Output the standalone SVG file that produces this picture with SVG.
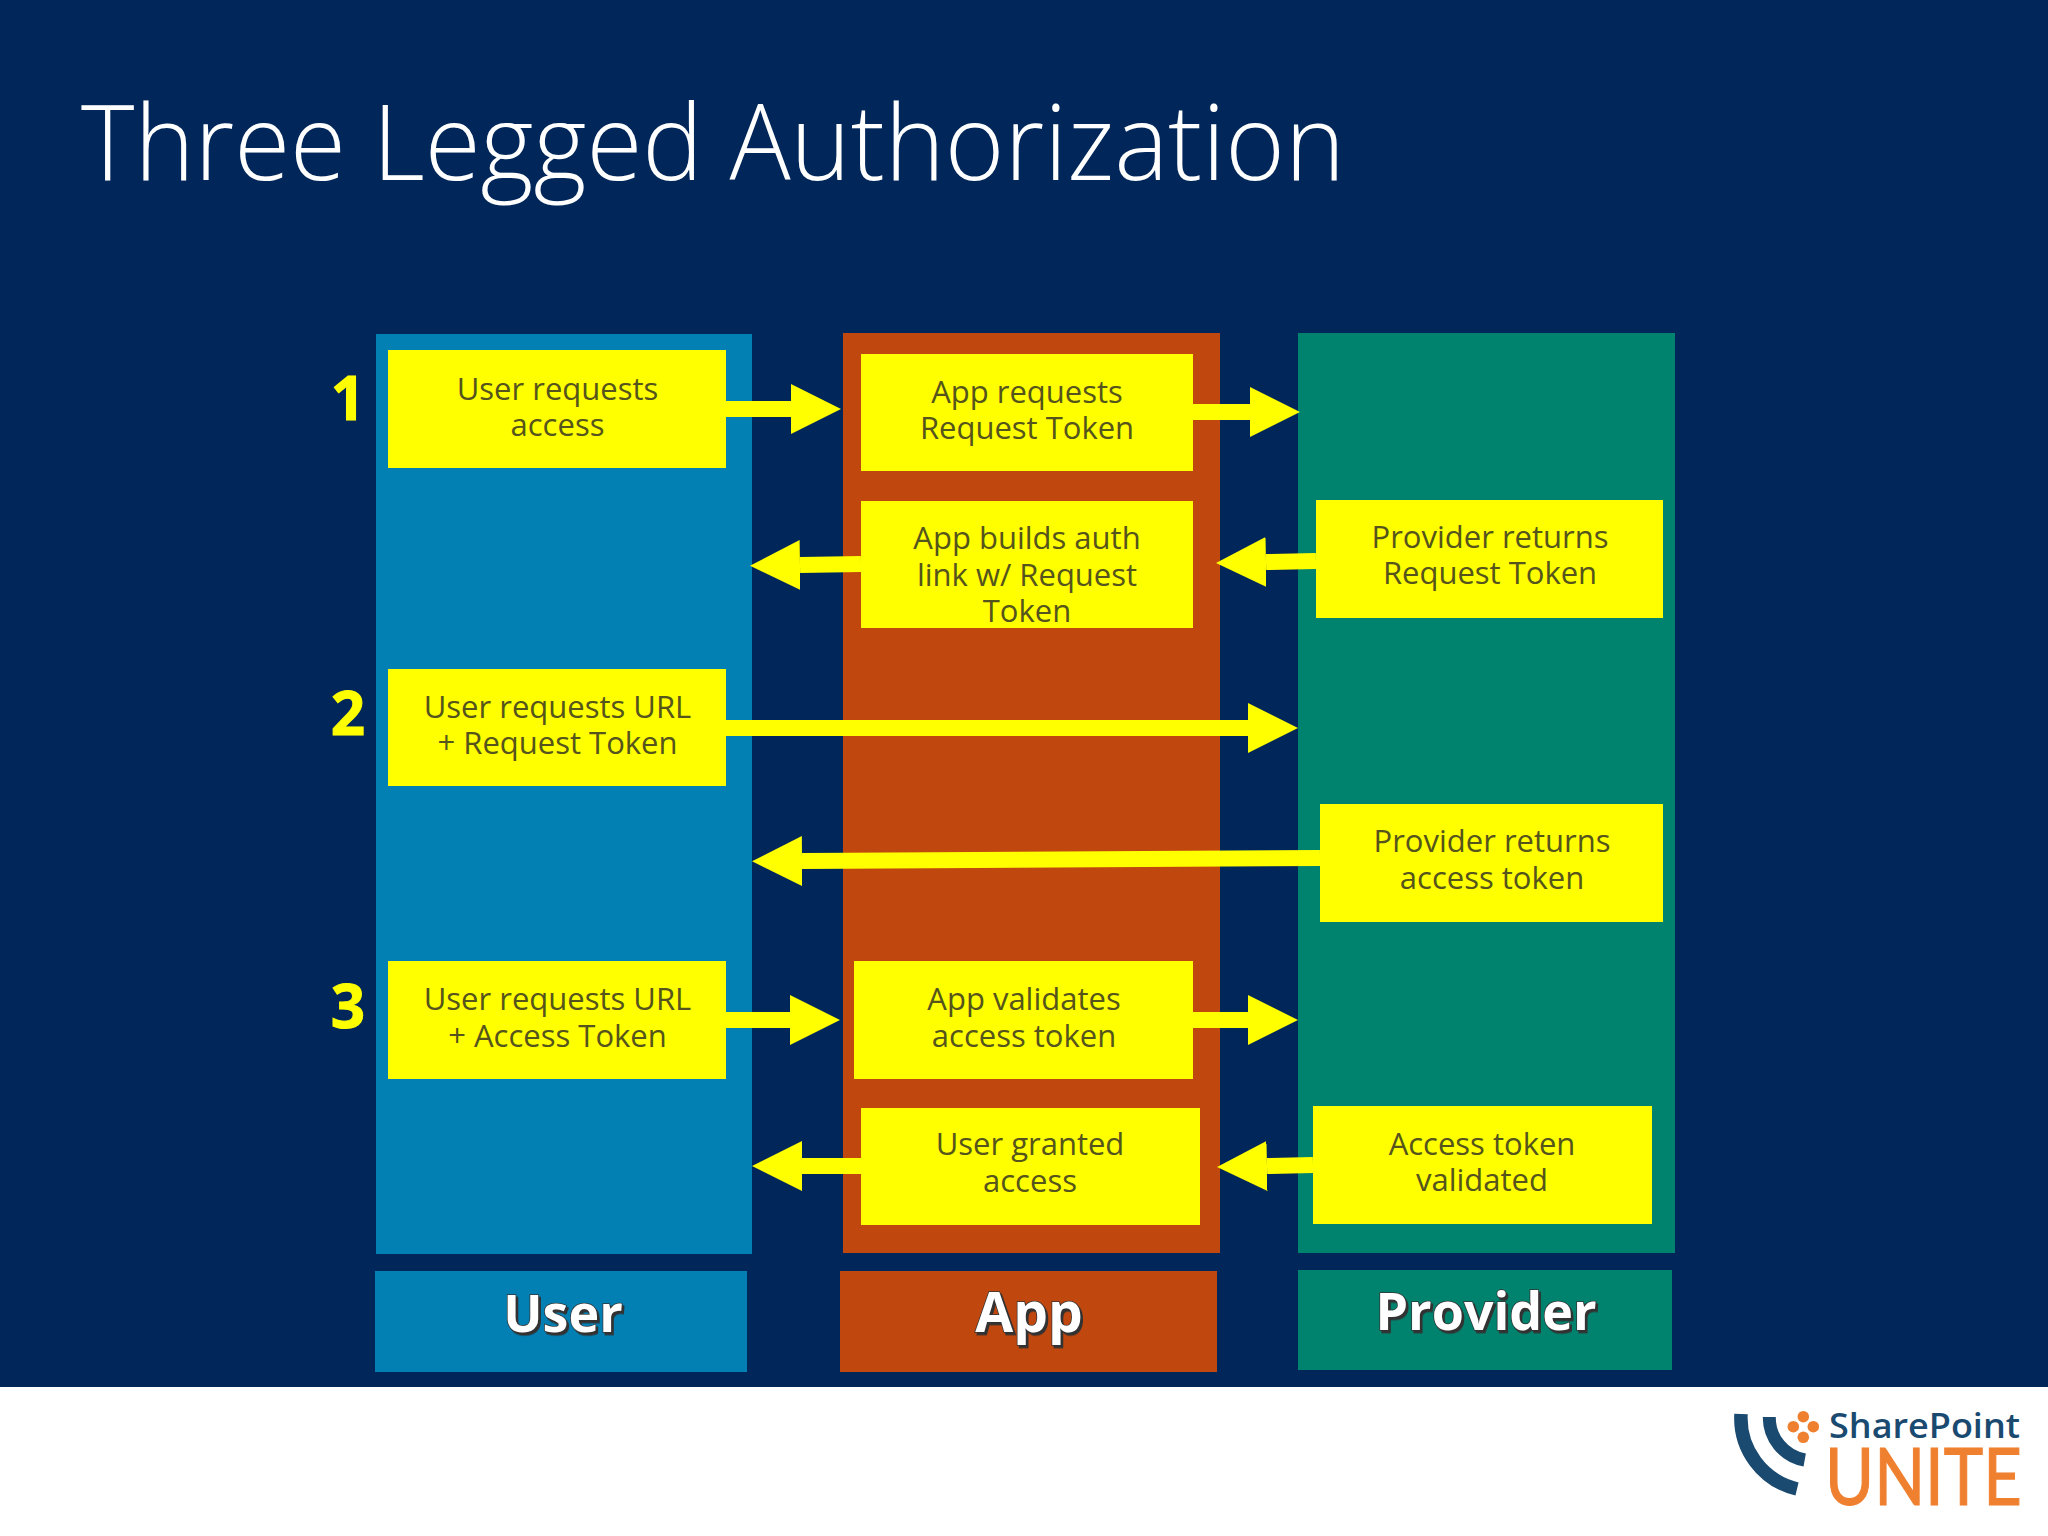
<svg xmlns="http://www.w3.org/2000/svg" width="2048" height="1536" viewBox="0 0 2048 1536">
<style>
.title{font-family:"Open Sans","Noto Sans",sans-serif;font-weight:300;font-size:106px;fill:#fff}
.box{fill:#ffff00}
.t{font-family:"Open Sans","Noto Sans",sans-serif;font-size:31px;fill:#55541c;text-anchor:middle}
.num{font-family:"Open Sans","Noto Sans",sans-serif;font-weight:700;font-size:60px;fill:#ffff00;text-anchor:middle;stroke:#ffff00;stroke-width:1px}
.lab{font-family:"Open Sans","Noto Sans",sans-serif;font-weight:700;font-size:52px;fill:#fff;text-anchor:middle;stroke:#333;stroke-width:1.5px;paint-order:stroke;filter:url(#sh)}
.c{stroke:#ffff00;stroke-width:16;fill:none;marker-end:url(#head)}
.arc{fill:none;stroke:#1a4a70}
.dot{fill:#ef8030}
</style>
<defs>
<marker id="head" markerUnits="userSpaceOnUse" markerWidth="50" markerHeight="52" refX="0" refY="26" orient="auto"><polygon points="0,1 50,26 0,51" fill="#ffff00"/></marker>
<filter id="sh" x="-10%" y="-10%" width="120%" height="130%"><feDropShadow dx="2" dy="2.5" stdDeviation="0.6" flood-color="#333"/></filter>
</defs>
<rect width="2048" height="1536" fill="#fff"/>
<rect width="2048" height="1387" fill="#012659"/>
<text class="title" x="81" y="180" textLength="1264" lengthAdjust="spacingAndGlyphs">Three Legged Authorization</text>
<g id="col-user"><rect x="376" y="334" width="376" height="920" fill="#0280b4"/></g>
<g id="col-app"><rect x="843" y="333" width="377" height="920" fill="#c0470d"/></g>
<g id="col-provider"><rect x="1298" y="333" width="377" height="920" fill="#00836e"/></g>
<g id="connectors">
<line class="c" x1="726" y1="409" x2="791" y2="409"/>
<line class="c" x1="1193" y1="412" x2="1250" y2="412"/>
<line class="c" x1="861" y1="564" x2="800" y2="565"/>
<line class="c" x1="1316" y1="561" x2="1266" y2="562"/>
<line class="c" x1="726" y1="728" x2="1248" y2="728"/>
<line class="c" x1="1320" y1="858" x2="802" y2="861"/>
<line class="c" x1="726" y1="1020" x2="790" y2="1020"/>
<line class="c" x1="1193" y1="1020" x2="1248" y2="1020"/>
<line class="c" x1="861" y1="1166" x2="802" y2="1166"/>
<line class="c" x1="1313" y1="1165" x2="1267" y2="1166"/>
</g>
<g id="n1"><rect class="box" x="388" y="350" width="338" height="118"/><text class="t" y="400"><tspan x="557.500">User requests</tspan><tspan x="557.500" dy="36">access</tspan></text></g>
<g id="n2"><rect class="box" x="861" y="354" width="332" height="117"/><text class="t" y="403"><tspan x="1027">App requests</tspan><tspan x="1027" dy="36">Request Token</tspan></text></g>
<g id="n3"><rect class="box" x="861" y="501" width="332" height="127"/><text class="t" y="549"><tspan x="1027">App builds auth</tspan><tspan x="1027" dy="36.500">link w/ Request</tspan><tspan x="1027" dy="36.500">Token</tspan></text></g>
<g id="n4"><rect class="box" x="1316" y="500" width="347" height="118"/><text class="t" y="548"><tspan x="1490">Provider returns</tspan><tspan x="1490" dy="36">Request Token</tspan></text></g>
<g id="n5"><rect class="box" x="388" y="669" width="338" height="117"/><text class="t" y="718"><tspan x="557.500">User requests URL</tspan><tspan x="557.500" dy="36">+ Request Token</tspan></text></g>
<g id="n6"><rect class="box" x="1320" y="804" width="343" height="118"/><text class="t" y="852"><tspan x="1492">Provider returns</tspan><tspan x="1492" dy="37">access token</tspan></text></g>
<g id="n7"><rect class="box" x="388" y="961" width="338" height="118"/><text class="t" y="1010"><tspan x="557.500">User requests URL</tspan><tspan x="557.500" dy="36.500">+ Access Token</tspan></text></g>
<g id="n8"><rect class="box" x="854" y="961" width="339" height="118"/><text class="t" y="1010"><tspan x="1024">App validates</tspan><tspan x="1024" dy="36.500">access token</tspan></text></g>
<g id="n9"><rect class="box" x="861" y="1108" width="339" height="117"/><text class="t" y="1155"><tspan x="1030">User granted</tspan><tspan x="1030" dy="36.500">access</tspan></text></g>
<g id="n10"><rect class="box" x="1313" y="1106" width="339" height="118"/><text class="t" y="1155"><tspan x="1482">Access token</tspan><tspan x="1482" dy="36">validated</tspan></text></g>
<g id="numbers"><text class="num" x="348" y="420">1</text><text class="num" x="348" y="735">2</text><text class="num" x="348" y="1028">3</text></g>
<g id="label-user"><rect x="375" y="1271" width="372" height="101" fill="#0280b4"/><text class="lab" x="563" y="1332">User</text></g>
<g id="label-app"><rect x="840" y="1271" width="377" height="101" fill="#c0470d"/><text class="lab" x="1029" y="1332" style="font-size:55px">App</text></g>
<g id="label-provider"><rect x="1298" y="1270" width="374" height="100" fill="#00836e"/><text class="lab" x="1486" y="1330">Provider</text></g>
<g id="logo">
<path class="arc" stroke-width="13.500" d="M1741 1414A73 73 0 0 0 1797 1489"/>
<path class="arc" stroke-width="13" d="M1769.300 1417A43 43 0 0 0 1804.700 1460"/>
<circle class="dot" cx="1803.300" cy="1416.700" r="5.800"/><circle class="dot" cx="1793.300" cy="1426.700" r="5.800"/><circle class="dot" cx="1813.300" cy="1426.700" r="5.800"/><circle class="dot" cx="1803.300" cy="1437.300" r="5.800"/>
<text x="1829" y="1438" font-family="Open Sans, sans-serif" font-weight="600" font-size="34" fill="#1a4a70" textLength="191" lengthAdjust="spacingAndGlyphs">SharePoint</text>
<text transform="translate(1825 1505) scale(0.835 1)" font-family="Lato, sans-serif" font-size="80" fill="#ef8030" stroke="#ef8030" stroke-width="1.200">UNITE</text>
</g>
</svg>
